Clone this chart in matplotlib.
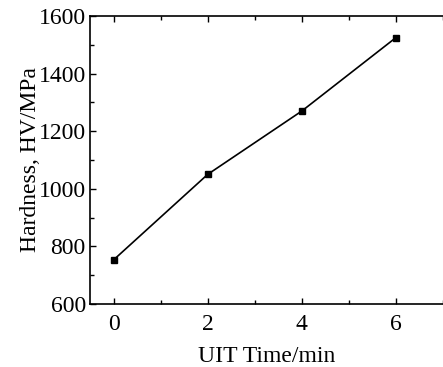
import matplotlib
matplotlib.use("Agg")
import matplotlib.pyplot as plt
from matplotlib.ticker import MultipleLocator

uit_time = [0, 2, 4, 6]
hardness = [753, 1050, 1270, 1525]

plt.rcParams['font.family'] = ['Liberation Serif', 'DejaVu Serif']
plt.rcParams['font.size'] = 17

fig = plt.figure(figsize=(4.43, 3.67), dpi=100)
ax = fig.add_axes([90/443, 63/367, 353/443, 288/367])
ax.plot(uit_time, hardness, color='black', linewidth=1.2, marker='s', markersize=5)

ax.set_xlim(-0.5, 7)
ax.set_ylim(600, 1600)
ax.xaxis.set_major_locator(MultipleLocator(2))
ax.xaxis.set_minor_locator(MultipleLocator(1))
ax.yaxis.set_major_locator(MultipleLocator(200))
ax.yaxis.set_minor_locator(MultipleLocator(100))
ax.tick_params(which='both', direction='in', top=True, right=False, width=1)
ax.tick_params(which='major', length=4)
ax.tick_params(axis='x', which='major', pad=7)
ax.tick_params(axis='y', which='major', pad=3)
ax.tick_params(which='minor', length=3)
ax.spines['right'].set_visible(False)
for s in ['left', 'bottom', 'top']:
    ax.spines[s].set_linewidth(1.2)

ax.set_xlabel("UIT Time/min", labelpad=8)
ax.set_ylabel("Hardness, HV/MPa", labelpad=-2)

fig.savefig("out.png", dpi=100)
